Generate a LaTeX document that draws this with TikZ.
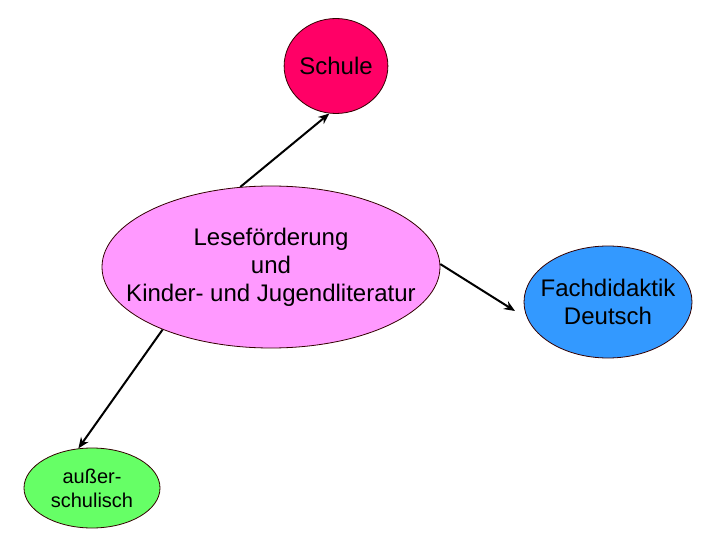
\documentclass[tikz,border=0pt]{standalone}
\usepackage{fontspec}
\setmainfont{Liberation Sans}
\usetikzlibrary{shapes.geometric,arrows.meta}
\definecolor{schulecol}{RGB}{255,0,102}
\definecolor{centercol}{RGB}{255,153,255}
\definecolor{fachcol}{RGB}{51,153,255}
\definecolor{aussercol}{RGB}{102,255,102}
\tikzset{
  blob/.style={ellipse, draw=black!80!red, line width=0.8pt, inner sep=0pt, align=center,
    font=\fontsize{24}{28}\selectfont},
  conn/.style={line width=2pt, -{Stealth[length=11pt,width=9pt]}}
}
\begin{document}
\begin{tikzpicture}[x=1pt,y=-1pt]
\useasboundingbox (0,0) rectangle (720,540);
\node[blob, fill=schulecol, minimum width=94pt, minimum height=95pt] (schule) at (336,66) {Schule};
\node[blob, fill=centercol, inner xsep=-26pt, minimum width=338pt, minimum height=162pt] (center) at (271,267)
  {Leseförderung\\und\\Kinder- und Jugendliteratur};
\node[blob, fill=fachcol, inner xsep=-8pt, minimum width=168pt, minimum height=112pt] (fach) at (608,302)
  {Fachdidaktik\\Deutsch};
\node[blob, fill=aussercol, inner xsep=-6pt, minimum width=136pt, minimum height=80pt,
  font=\fontsize{20}{24}\selectfont] (ausser) at (92,488) {außer-\\schulisch};
\coordinate (fachtip) at (515,311);
\draw[conn] (center.111) -- (schule.262);
\draw[conn] (center.1) -- (fachtip);
\draw[conn] (center.210) -- (ausser.109);
\end{tikzpicture}
\end{document}
